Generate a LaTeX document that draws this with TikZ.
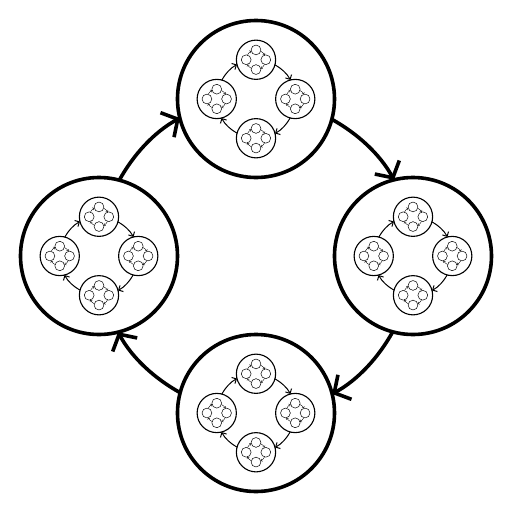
\documentclass[tikz,border=0pt]{standalone}
\usetikzlibrary{arrows.meta,calc}
\begin{document}
\begin{tikzpicture}[x=1pt,y=1pt,
  ringA/.style={circle,draw,line width=3.6pt,minimum size=157pt,inner sep=0pt,outer sep=0pt},
  ringB/.style={circle,draw,line width=1.1pt,minimum size=39.25pt,inner sep=0pt,outer sep=0pt},
  ringC/.style={circle,draw,line width=0.5pt,minimum size=9.8125pt,inner sep=0pt,outer sep=0pt},
  arA/.style={line width=3.6pt,-{Straight Barb[length=12pt,width=28pt]},looseness=0.868},
  arB/.style={line width=1pt,-{Straight Barb[length=3.5pt,width=7pt]},looseness=0.868},
  arC/.style={line width=0.4pt,-{Straight Barb[length=1.3pt,width=2.6pt]},looseness=0.868}]
\useasboundingbox (-256,-256) rectangle (256,256);
\foreach \a/\n in {90/T,0/R,-90/B,180/L}{
  \node[ringA] (\n) at (\a:157) {};
  \foreach \b/\m in {90/T,0/R,-90/B,180/L}{
    \node[ringB] (\n\m) at ($(\n)+(\b:39.25)$) {};
    \foreach \c/\k in {90/T,0/R,-90/B,180/L}{
      \node[ringC] (\n\m\k) at ($(\n\m)+(\c:9.8125)$) {};
    }
    \foreach \c/\k/\kx in {90/T/R,0/R/B,-90/B/L,180/L/T}{
      \pgfmathsetmacro\sa{mod(\c-104.4775+720,360)}
      \pgfmathsetmacro\ea{mod(\c+14.4775+720,360)}
      \pgfmathsetmacro\oa{\c-118.955}
      \pgfmathsetmacro\ia{\c+28.955}
      \draw[arC] (\n\m\k.\sa) to[out=\oa,in=\ia] (\n\m\kx.\ea);
    }
  }
  \foreach \b/\m/\mx in {90/T/R,0/R/B,-90/B/L,180/L/T}{
    \pgfmathsetmacro\sa{mod(\b-104.4775+720,360)}
    \pgfmathsetmacro\ea{mod(\b+14.4775+720,360)}
    \pgfmathsetmacro\oa{\b-118.955}
    \pgfmathsetmacro\ia{\b+28.955}
    \draw[arB] (\n\m.\sa) to[out=\oa,in=\ia] (\n\mx.\ea);
  }
}
\foreach \a/\n/\nx in {90/T/R,0/R/B,-90/B/L,180/L/T}{
  \pgfmathsetmacro\sa{mod(\a-104.4775+720,360)}
  \pgfmathsetmacro\ea{mod(\a+14.4775+720,360)}
  \pgfmathsetmacro\oa{\a-118.955}
  \pgfmathsetmacro\ia{\a+28.955}
  \draw[arA] (\n.\sa) to[out=\oa,in=\ia] (\nx.\ea);
}
\end{tikzpicture}
\end{document}
